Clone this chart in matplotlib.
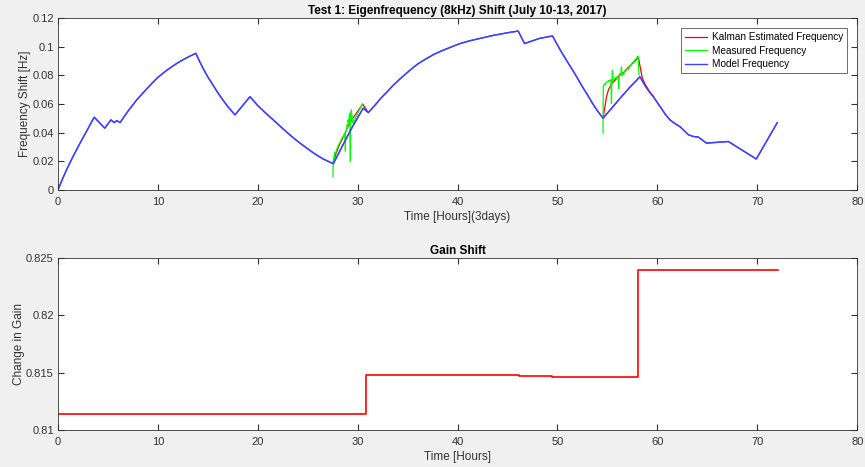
import matplotlib.pyplot as plt
from matplotlib.ticker import FuncFormatter

plt.rcParams['font.family'] = ['Liberation Sans', 'DejaVu Sans']

# model frequency (blue)
model_t = [0, 0.5, 1.0, 1.5, 2.0, 2.5, 3.0, 3.63, 4.69, 5.3, 5.62, 5.89, 6.22,
           6.6, 7.0, 7.5, 7.87, 8.5, 9.0, 9.5, 10.0, 10.5, 11.0, 11.5, 12.0, 12.5, 13.0, 13.5, 13.8,
           14.2, 14.6, 15.0, 15.5, 16.0, 16.5, 17.0, 17.72, 19.22,
           20.0, 20.8, 21.55, 22.3, 23.2, 24.0, 24.9, 25.7, 26.55, 27.56,
           28.5, 29.5, 30.55, 31.06, 31.7, 32.3, 33.0, 33.57, 34.3, 35.2, 36.0, 36.9, 37.7, 38.5, 39.4, 40.24,
           41.2, 42.0, 42.8, 43.57, 44.5, 45.3, 46.07, 46.7, 48.2, 49.5,
           50.3, 51.0, 51.8, 52.5, 53.0, 53.5, 54.0, 54.56, 55.5, 56.4, 57.3, 58.26,
           58.8, 59.2, 59.6, 60.0, 60.4, 60.8, 61.26, 61.8, 62.26, 63.1, 63.6, 64.1,
           64.9, 67.1, 69.9, 72.0]
model_f = [0, 0.0085, 0.0162, 0.0233, 0.0300, 0.0365, 0.0428, 0.0509, 0.0432, 0.0490, 0.0471, 0.0485, 0.0471,
           0.0510, 0.0550, 0.0595, 0.0629, 0.0677, 0.0715, 0.0752, 0.0787, 0.0815, 0.0842, 0.0866, 0.0889,
           0.0909, 0.0928, 0.0945, 0.0955,
           0.0895, 0.0840, 0.0790, 0.0735, 0.0680, 0.0630, 0.0583, 0.0525, 0.0652,
           0.0590, 0.0537, 0.0490, 0.0442, 0.0386, 0.0340, 0.0293, 0.0253, 0.0217, 0.0184,
           0.0312, 0.0445, 0.0572, 0.0541, 0.0590, 0.0640, 0.0690, 0.0733, 0.0780, 0.0835, 0.0880, 0.0919,
           0.0950, 0.0975, 0.1000, 0.1023, 0.1042, 0.1055, 0.1068, 0.1080, 0.1092, 0.1102, 0.1110,
           0.1023, 0.1059, 0.1076,
           0.0975, 0.0895, 0.0805, 0.0721, 0.0665, 0.0606, 0.0553, 0.0502, 0.0578, 0.0652, 0.0722, 0.0791,
           0.0725, 0.0685, 0.0652, 0.0610, 0.0570, 0.0528, 0.0490, 0.0462, 0.0443, 0.0386, 0.0374, 0.0370,
           0.0328, 0.0339, 0.0217, 0.0471]

# measured frequency (green), two windows
meas1_t = [27.53, 27.55, 27.6, 27.65, 27.7, 27.8, 27.87, 27.95, 28.0, 28.1, 28.2, 28.3, 28.4, 28.54, 28.6,
           28.65, 28.72, 28.77, 28.8, 28.87, 28.95, 29.0, 29.04, 29.1, 29.15, 29.2, 29.27, 29.3, 29.37,
           29.45, 29.54, 30.0, 30.47]
meas1_f = [0.0092, 0.0200, 0.0230, 0.0215, 0.0262, 0.0255, 0.0281, 0.0292, 0.0300, 0.0318, 0.0328, 0.0345,
           0.0360, 0.0374, 0.0366, 0.0392, 0.0380, 0.0272, 0.0405, 0.0420, 0.0455, 0.0440, 0.0489, 0.0470,
           0.0515, 0.0537, 0.0200, 0.0520, 0.0560, 0.0500, 0.0467, 0.0535, 0.0601]
meas2_t = [54.56, 54.58, 54.65, 54.73, 54.8, 54.9, 54.98, 55.06, 55.13, 55.2, 55.3, 55.35, 55.4, 55.45, 55.5,
           55.55, 55.63, 55.7, 55.75, 55.82, 55.9, 55.95, 56.0, 56.07, 56.13, 56.18, 56.23, 56.3, 56.35, 56.4,
           56.48, 56.56, 56.63, 56.7, 56.8, 56.9, 56.97, 57.05, 57.12, 57.23, 57.3, 57.4, 57.48, 57.56, 57.63,
           57.7, 57.8, 57.9, 57.95, 58.0, 58.06, 58.16]
meas2_f = [0.0397, 0.0721, 0.0735, 0.0744, 0.0738, 0.0750, 0.0760, 0.0756, 0.0765, 0.0762, 0.0770, 0.0760,
           0.0605, 0.0772, 0.0837, 0.0765, 0.0768, 0.0778, 0.0775, 0.0785, 0.0780, 0.0792, 0.0790, 0.0782,
           0.0710, 0.0795, 0.0814, 0.0805, 0.0818, 0.0860, 0.0800, 0.0814, 0.0808, 0.0825, 0.0830, 0.0837,
           0.0848, 0.0850, 0.0842, 0.0872, 0.0865, 0.0880, 0.0888, 0.0895, 0.0887, 0.0905, 0.0912, 0.0918,
           0.0928, 0.0925, 0.0935, 0.0803]

# kalman estimate (red)
kal1_t = [27.56, 27.8, 28.2, 28.6, 29.0, 29.4, 29.8, 30.2, 30.5, 30.75, 31.06]
kal1_f = [0.0184, 0.0250, 0.0320, 0.0375, 0.0440, 0.0490, 0.0530, 0.0570, 0.0600, 0.0575, 0.0541]
kal2_t = [54.56, 54.75, 54.9, 55.1, 55.4, 55.8, 56.2, 56.6, 57.0, 57.6, 58.1, 58.3, 58.5, 58.8, 59.2, 59.6]
kal2_f = [0.0502, 0.0580, 0.0650, 0.0700, 0.0740, 0.0770, 0.0800, 0.0820, 0.0850, 0.0890, 0.0925, 0.0850,
          0.0780, 0.0735, 0.0690, 0.0652]

# gain steps
gain_t = [0, 30.8, 46.1, 49.5, 58.1, 72.1]
gain_v = [0.81142, 0.81481, 0.81472, 0.81464, 0.82391, 0.82391]

fmt = FuncFormatter(lambda v, p: '%g' % round(v, 4))


def style(ax):
    ax.tick_params(direction='in', top=True, right=True, length=4, labelsize=8, colors='#333333', pad=3)
    ax.tick_params(axis='x', pad=5)
    for s in ax.spines.values():
        s.set_color('#333333')
        s.set_linewidth(0.6)
    ax.yaxis.set_major_formatter(fmt)


fig = plt.figure(figsize=(8.65, 4.67), dpi=100, facecolor='#f0f0f0')

ax1 = fig.add_axes([0.067, 0.593, 0.924, 0.368])
ax1.plot(kal1_t, kal1_f, c='#ff0000', lw=0.9, label='Kalman Estimated Frequency')
ax1.plot(meas1_t, meas1_f, c='#00ff00', lw=0.9, label='Measured Frequency')
ax1.plot(model_t, model_f, c='#4040ff', lw=1.0, label='Model Frequency')
ax1.plot(kal2_t, kal2_f, c='#ff0000', lw=0.9)
ax1.plot(meas2_t, meas2_f, c='#00ff00', lw=0.9)
ax1.plot(model_t, model_f, c='#4040ff', lw=1.0)
ax1.set_xlim(0, 80)
ax1.set_ylim(0, 0.12)
ax1.set_xticks(range(0, 81, 10))
ax1.set_yticks([0, 0.02, 0.04, 0.06, 0.08, 0.1, 0.12])
style(ax1)
ax1.set_title('Test 1: Eigenfrequency (8kHz) Shift (July 10-13, 2017)', fontsize=8.5, fontweight='bold', pad=3)
ax1.set_xlabel('Time [Hours](3days)', fontsize=8.5, color='#333333', labelpad=3)
ax1.set_ylabel('Frequency Shift [Hz]', fontsize=8.5, color='#333333', labelpad=1)
leg = ax1.legend(loc='upper right', fontsize=7.2, fancybox=False, framealpha=1, edgecolor='#555555',
                 handlelength=2.2, borderpad=0.4, labelspacing=0.35, handletextpad=0.5, borderaxespad=0,
                 bbox_to_anchor=(0.9875, 0.942))
leg.get_frame().set_linewidth(0.6)

ax2 = fig.add_axes([0.067, 0.079, 0.924, 0.369])
ax2.step(gain_t, gain_v, where='post', c='#ff0000', lw=1.2)
ax2.set_xlim(0, 80)
ax2.set_ylim(0.81, 0.825)
ax2.set_xticks(range(0, 81, 10))
ax2.set_yticks([0.81, 0.815, 0.82, 0.825])
style(ax2)
ax2.set_title('Gain Shift', fontsize=8.5, fontweight='bold', pad=3)
ax2.set_xlabel('Time [Hours]', fontsize=8.5, color='#333333', labelpad=3)
ax2.set_ylabel('Change in Gain', fontsize=8.5, color='#333333', labelpad=1)

plt.savefig('out.png', dpi=100, facecolor=fig.get_facecolor())
